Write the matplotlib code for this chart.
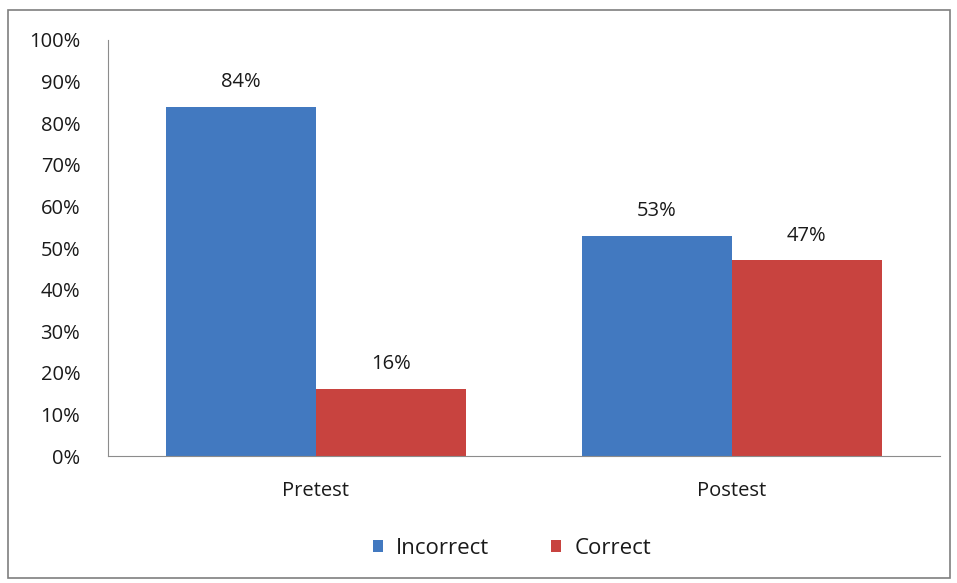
import matplotlib.pyplot as plt
from matplotlib.patches import Rectangle
from matplotlib.ticker import PercentFormatter

categories = ["Pretest", "Postest"]
incorrect = [84, 53]
correct = [16, 47]
series = [("Incorrect", incorrect, "#4279c0"), ("Correct", correct, "#c8433f")]

plt.rcParams["font.family"] = ["Open Sans", "DejaVu Sans"]
plt.rcParams["text.color"] = "#1a1a1a"

fig = plt.figure(figsize=(9.57, 5.83), dpi=100)
ax = fig.add_axes([0.1129, 0.2178, 0.8691, 0.7136])

width = 0.36
xs = range(len(categories))
for i, (label, vals, colour) in enumerate(series):
    pos = [x + (i - 0.5) * width for x in xs]
    bars = ax.bar(pos, vals, width, color=colour, label=label)
    for b, v in zip(bars, vals):
        ax.text(b.get_x() + b.get_width() / 2, v + 6, f"{v}%",
                ha="center", va="center", fontsize=14.5)

ax.set_xlim(-0.5, 1.5)
ax.set_ylim(0, 100)
ax.set_yticks(range(0, 101, 10))
ax.yaxis.set_major_formatter(PercentFormatter(decimals=0))
ax.set_xticks(list(xs))
ax.set_xticklabels(categories)
ax.tick_params(axis="both", length=0, labelsize=14.5, labelcolor="#1a1a1a")
ax.tick_params(axis="y", pad=20)
ax.tick_params(axis="x", pad=18)
for s in ["top", "right"]:
    ax.spines[s].set_visible(False)
for s in ["left", "bottom"]:
    ax.spines[s].set_color("#8c8c8c")

fig.legend(loc="center", bbox_to_anchor=(0.535, 0.06), ncol=2, frameon=False,
           fontsize=16, handlelength=0.45, handleheight=0.45, columnspacing=2.8,
           handletextpad=0.6)

fig.patches.append(Rectangle((8 / 957, 5 / 583), 942 / 957, 568 / 583,
                             transform=fig.transFigure, fill=False,
                             edgecolor="#7f7f7f", linewidth=1.2))

fig.savefig("out.png", dpi=100)
